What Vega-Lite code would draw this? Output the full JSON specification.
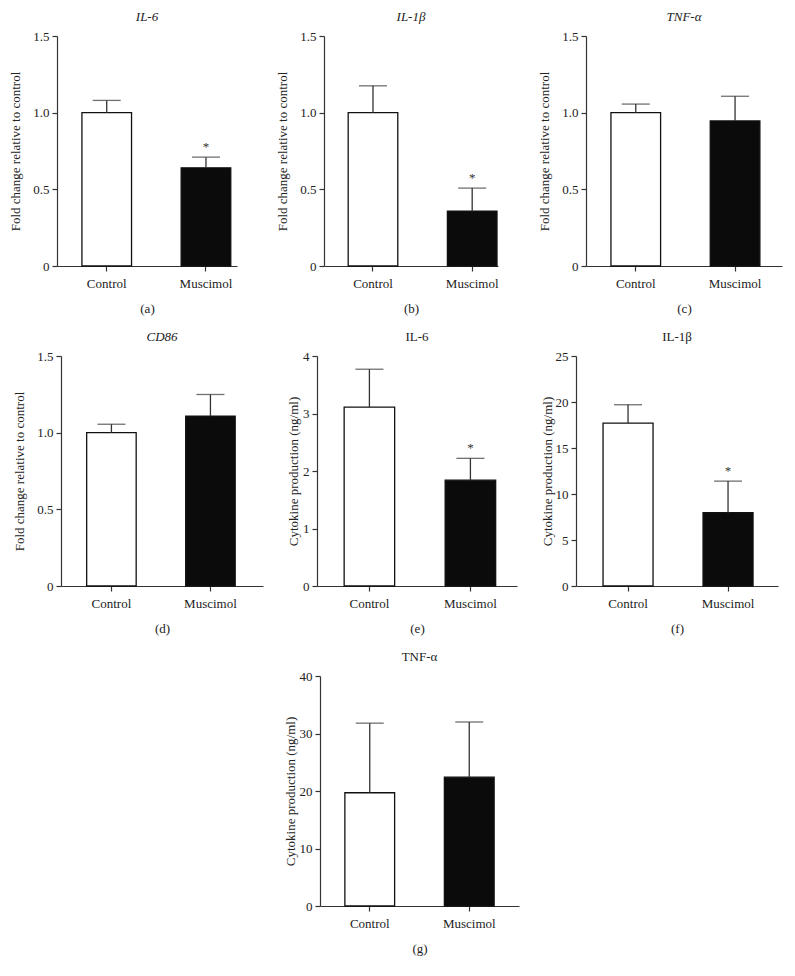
{
  "$schema": "https://vega.github.io/schema/vega-lite/v6.json",
  "background": "white",
  "padding": {"left": 9, "right": 5, "top": 11, "bottom": 5},
  "datasets": {
    "d": [
      {"panel": "a", "group": "Control", "value": 1.0, "err": 1.08, "sig": ""},
      {"panel": "a", "group": "Muscimol", "value": 0.64, "err": 0.71, "sig": "*"},
      {"panel": "b", "group": "Control", "value": 1.0, "err": 1.175, "sig": ""},
      {"panel": "b", "group": "Muscimol", "value": 0.357, "err": 0.508, "sig": "*"},
      {"panel": "c", "group": "Control", "value": 1.0, "err": 1.056, "sig": ""},
      {"panel": "c", "group": "Muscimol", "value": 0.946, "err": 1.107, "sig": ""},
      {"panel": "d", "group": "Control", "value": 1.0, "err": 1.055, "sig": ""},
      {"panel": "d", "group": "Muscimol", "value": 1.107, "err": 1.249, "sig": ""},
      {"panel": "e", "group": "Control", "value": 3.11, "err": 3.77, "sig": ""},
      {"panel": "e", "group": "Muscimol", "value": 1.84, "err": 2.22, "sig": "*"},
      {"panel": "f", "group": "Control", "value": 17.7, "err": 19.7, "sig": ""},
      {"panel": "f", "group": "Muscimol", "value": 7.96, "err": 11.4, "sig": "*"},
      {"panel": "g", "group": "Control", "value": 19.7, "err": 31.8, "sig": ""},
      {"panel": "g", "group": "Muscimol", "value": 22.4, "err": 32.0, "sig": ""}
    ]
  },
  "config": {
    "font": "Liberation Serif",
    "view": {"stroke": null},
    "title": {"font": "Liberation Serif", "fontSize": 13, "fontWeight": "normal", "color": "#222", "offset": 6},
    "axis": {
      "labelFont": "Liberation Serif", "titleFont": "Liberation Serif",
      "labelFontSize": 13, "titleFontSize": 13, "titleFontWeight": "normal",
      "labelColor": "#222", "titleColor": "#222",
      "domainColor": "#333", "tickColor": "#333", "domainWidth": 1.2, "tickWidth": 1.2,
      "tickSize": 5, "grid": false
    },
    "axisX": {"labelAngle": 0, "labelPadding": 6, "titlePadding": 12},
    "axisY": {"labelPadding": 3, "titlePadding": 10}
  },
  "vconcat": [
    {
      "hconcat": [
        {
          "width": 180, "height": 230,
          "title": {"text": "IL-6", "fontStyle": "italic"},
          "data": {"name": "d"},
          "transform": [{"filter": "datum.panel == 'a'"}],
          "encoding": {"x": {"field": "group", "type": "nominal", "sort": ["Control", "Muscimol"], "scale": {"paddingInner": 0.5, "paddingOuter": 0.157, "align": 0.8}, "axis": {"title": "(a)"}}},
          "layer": [
            {"mark": {"type": "bar", "stroke": "#111", "strokeWidth": 1.3}, "encoding": {"y": {"field": "value", "type": "quantitative", "scale": {"domain": [0, 1.5]}, "axis": {"title": "Fold change relative to control", "values": [0, 0.5, 1, 1.5], "labelExpr": "datum.value == 0 ? '0' : format(datum.value, '.1f')"}}, "fill": {"field": "group", "type": "nominal", "scale": {"domain": ["Control", "Muscimol"], "range": ["white", "#0b0b0b"]}, "legend": null}}},
            {"mark": {"type": "rule", "color": "#333", "strokeWidth": 1.3}, "encoding": {"y": {"field": "value", "type": "quantitative", "scale": {"domain": [0, 1.5]}, "axis": {"title": "Fold change relative to control", "values": [0, 0.5, 1, 1.5], "labelExpr": "datum.value == 0 ? '0' : format(datum.value, '.1f')"}}, "y2": {"field": "err"}}},
            {"mark": {"type": "tick", "color": "#333", "size": 28, "thickness": 1.3}, "encoding": {"y": {"field": "err", "type": "quantitative", "scale": {"domain": [0, 1.5]}, "axis": {"title": "Fold change relative to control", "values": [0, 0.5, 1, 1.5], "labelExpr": "datum.value == 0 ? '0' : format(datum.value, '.1f')"}}}},
            {"mark": {"type": "text", "dy": -3, "fontSize": 13, "color": "#333", "baseline": "bottom"}, "encoding": {"y": {"field": "err", "type": "quantitative", "scale": {"domain": [0, 1.5]}, "axis": {"title": "Fold change relative to control", "values": [0, 0.5, 1, 1.5], "labelExpr": "datum.value == 0 ? '0' : format(datum.value, '.1f')"}}, "text": {"field": "sig"}}}
          ]
        },
        {
          "width": 174, "height": 230,
          "title": {"text": "IL-1β", "fontStyle": "italic"},
          "data": {"name": "d"},
          "transform": [{"filter": "datum.panel == 'b'"}],
          "encoding": {"x": {"field": "group", "type": "nominal", "sort": ["Control", "Muscimol"], "scale": {"paddingInner": 0.5, "paddingOuter": 0.127, "align": 0.96}, "axis": {"title": "(b)"}}},
          "layer": [
            {"mark": {"type": "bar", "stroke": "#111", "strokeWidth": 1.3}, "encoding": {"y": {"field": "value", "type": "quantitative", "scale": {"domain": [0, 1.5]}, "axis": {"title": "Fold change relative to control", "values": [0, 0.5, 1, 1.5], "labelExpr": "datum.value == 0 ? '0' : format(datum.value, '.1f')"}}, "fill": {"field": "group", "type": "nominal", "scale": {"domain": ["Control", "Muscimol"], "range": ["white", "#0b0b0b"]}, "legend": null}}},
            {"mark": {"type": "rule", "color": "#333", "strokeWidth": 1.3}, "encoding": {"y": {"field": "value", "type": "quantitative", "scale": {"domain": [0, 1.5]}, "axis": {"title": "Fold change relative to control", "values": [0, 0.5, 1, 1.5], "labelExpr": "datum.value == 0 ? '0' : format(datum.value, '.1f')"}}, "y2": {"field": "err"}}},
            {"mark": {"type": "tick", "color": "#333", "size": 28, "thickness": 1.3}, "encoding": {"y": {"field": "err", "type": "quantitative", "scale": {"domain": [0, 1.5]}, "axis": {"title": "Fold change relative to control", "values": [0, 0.5, 1, 1.5], "labelExpr": "datum.value == 0 ? '0' : format(datum.value, '.1f')"}}}},
            {"mark": {"type": "text", "dy": -3, "fontSize": 13, "color": "#333", "baseline": "bottom"}, "encoding": {"y": {"field": "err", "type": "quantitative", "scale": {"domain": [0, 1.5]}, "axis": {"title": "Fold change relative to control", "values": [0, 0.5, 1, 1.5], "labelExpr": "datum.value == 0 ? '0' : format(datum.value, '.1f')"}}, "text": {"field": "sig"}}}
          ]
        },
        {
          "width": 196, "height": 230,
          "title": {"text": "TNF-α", "fontStyle": "italic"},
          "data": {"name": "d"},
          "transform": [{"filter": "datum.panel == 'c'"}],
          "encoding": {"x": {"field": "group", "type": "nominal", "sort": ["Control", "Muscimol"], "scale": {"paddingInner": 0.5, "paddingOuter": 0.237, "align": 0.53}, "axis": {"title": "(c)"}}},
          "layer": [
            {"mark": {"type": "bar", "stroke": "#111", "strokeWidth": 1.3}, "encoding": {"y": {"field": "value", "type": "quantitative", "scale": {"domain": [0, 1.5]}, "axis": {"title": "Fold change relative to control", "values": [0, 0.5, 1, 1.5], "labelExpr": "datum.value == 0 ? '0' : format(datum.value, '.1f')"}}, "fill": {"field": "group", "type": "nominal", "scale": {"domain": ["Control", "Muscimol"], "range": ["white", "#0b0b0b"]}, "legend": null}}},
            {"mark": {"type": "rule", "color": "#333", "strokeWidth": 1.3}, "encoding": {"y": {"field": "value", "type": "quantitative", "scale": {"domain": [0, 1.5]}, "axis": {"title": "Fold change relative to control", "values": [0, 0.5, 1, 1.5], "labelExpr": "datum.value == 0 ? '0' : format(datum.value, '.1f')"}}, "y2": {"field": "err"}}},
            {"mark": {"type": "tick", "color": "#333", "size": 28, "thickness": 1.3}, "encoding": {"y": {"field": "err", "type": "quantitative", "scale": {"domain": [0, 1.5]}, "axis": {"title": "Fold change relative to control", "values": [0, 0.5, 1, 1.5], "labelExpr": "datum.value == 0 ? '0' : format(datum.value, '.1f')"}}}},
            {"mark": {"type": "text", "dy": -3, "fontSize": 13, "color": "#333", "baseline": "bottom"}, "encoding": {"y": {"field": "err", "type": "quantitative", "scale": {"domain": [0, 1.5]}, "axis": {"title": "Fold change relative to control", "values": [0, 0.5, 1, 1.5], "labelExpr": "datum.value == 0 ? '0' : format(datum.value, '.1f')"}}, "text": {"field": "sig"}}}
          ]
        }
      ],
      "spacing": 39
    },
    {
      "hconcat": [
        {
          "width": 202, "height": 230,
          "title": {"text": "CD86", "fontStyle": "italic"},
          "data": {"name": "d"},
          "transform": [{"filter": "datum.panel == 'd'"}],
          "encoding": {"x": {"field": "group", "type": "nominal", "sort": ["Control", "Muscimol"], "scale": {"paddingInner": 0.5, "paddingOuter": 0.27, "align": 0.48}, "axis": {"title": "(d)"}}},
          "layer": [
            {"mark": {"type": "bar", "stroke": "#111", "strokeWidth": 1.3}, "encoding": {"y": {"field": "value", "type": "quantitative", "scale": {"domain": [0, 1.5]}, "axis": {"title": "Fold change relative to control", "values": [0, 0.5, 1, 1.5], "labelExpr": "datum.value == 0 ? '0' : format(datum.value, '.1f')"}}, "fill": {"field": "group", "type": "nominal", "scale": {"domain": ["Control", "Muscimol"], "range": ["white", "#0b0b0b"]}, "legend": null}}},
            {"mark": {"type": "rule", "color": "#333", "strokeWidth": 1.3}, "encoding": {"y": {"field": "value", "type": "quantitative", "scale": {"domain": [0, 1.5]}, "axis": {"title": "Fold change relative to control", "values": [0, 0.5, 1, 1.5], "labelExpr": "datum.value == 0 ? '0' : format(datum.value, '.1f')"}}, "y2": {"field": "err"}}},
            {"mark": {"type": "tick", "color": "#333", "size": 28, "thickness": 1.3}, "encoding": {"y": {"field": "err", "type": "quantitative", "scale": {"domain": [0, 1.5]}, "axis": {"title": "Fold change relative to control", "values": [0, 0.5, 1, 1.5], "labelExpr": "datum.value == 0 ? '0' : format(datum.value, '.1f')"}}}},
            {"mark": {"type": "text", "dy": -3, "fontSize": 13, "color": "#333", "baseline": "bottom"}, "encoding": {"y": {"field": "err", "type": "quantitative", "scale": {"domain": [0, 1.5]}, "axis": {"title": "Fold change relative to control", "values": [0, 0.5, 1, 1.5], "labelExpr": "datum.value == 0 ? '0' : format(datum.value, '.1f')"}}, "text": {"field": "sig"}}}
          ]
        },
        {
          "width": 200, "height": 230,
          "title": {"text": "IL-6"},
          "data": {"name": "d"},
          "transform": [{"filter": "datum.panel == 'e'"}],
          "encoding": {"x": {"field": "group", "type": "nominal", "sort": ["Control", "Muscimol"], "scale": {"paddingInner": 0.5, "paddingOuter": 0.24, "align": 0.56}, "axis": {"title": "(e)"}}},
          "layer": [
            {"mark": {"type": "bar", "stroke": "#111", "strokeWidth": 1.3}, "encoding": {"y": {"field": "value", "type": "quantitative", "scale": {"domain": [0, 4]}, "axis": {"title": "Cytokine production (ng/ml)", "values": [0, 1, 2, 3, 4], "titlePadding": 2}}, "fill": {"field": "group", "type": "nominal", "scale": {"domain": ["Control", "Muscimol"], "range": ["white", "#0b0b0b"]}, "legend": null}}},
            {"mark": {"type": "rule", "color": "#333", "strokeWidth": 1.3}, "encoding": {"y": {"field": "value", "type": "quantitative", "scale": {"domain": [0, 4]}, "axis": {"title": "Cytokine production (ng/ml)", "values": [0, 1, 2, 3, 4], "titlePadding": 2}}, "y2": {"field": "err"}}},
            {"mark": {"type": "tick", "color": "#333", "size": 28, "thickness": 1.3}, "encoding": {"y": {"field": "err", "type": "quantitative", "scale": {"domain": [0, 4]}, "axis": {"title": "Cytokine production (ng/ml)", "values": [0, 1, 2, 3, 4], "titlePadding": 2}}}},
            {"mark": {"type": "text", "dy": -3, "fontSize": 13, "color": "#333", "baseline": "bottom"}, "encoding": {"y": {"field": "err", "type": "quantitative", "scale": {"domain": [0, 4]}, "axis": {"title": "Cytokine production (ng/ml)", "values": [0, 1, 2, 3, 4], "titlePadding": 2}}, "text": {"field": "sig"}}}
          ]
        },
        {
          "width": 202, "height": 230,
          "title": {"text": "IL-1β"},
          "data": {"name": "d"},
          "transform": [{"filter": "datum.panel == 'f'"}],
          "encoding": {"x": {"field": "group", "type": "nominal", "sort": ["Control", "Muscimol"], "scale": {"paddingInner": 0.5, "paddingOuter": 0.26, "align": 0.52}, "axis": {"title": "(f)"}}},
          "layer": [
            {"mark": {"type": "bar", "stroke": "#111", "strokeWidth": 1.3}, "encoding": {"y": {"field": "value", "type": "quantitative", "scale": {"domain": [0, 25]}, "axis": {"title": "Cytokine production (ng/ml)", "values": [0, 5, 10, 15, 20, 25], "titlePadding": 1}}, "fill": {"field": "group", "type": "nominal", "scale": {"domain": ["Control", "Muscimol"], "range": ["white", "#0b0b0b"]}, "legend": null}}},
            {"mark": {"type": "rule", "color": "#333", "strokeWidth": 1.3}, "encoding": {"y": {"field": "value", "type": "quantitative", "scale": {"domain": [0, 25]}, "axis": {"title": "Cytokine production (ng/ml)", "values": [0, 5, 10, 15, 20, 25], "titlePadding": 1}}, "y2": {"field": "err"}}},
            {"mark": {"type": "tick", "color": "#333", "size": 28, "thickness": 1.3}, "encoding": {"y": {"field": "err", "type": "quantitative", "scale": {"domain": [0, 25]}, "axis": {"title": "Cytokine production (ng/ml)", "values": [0, 5, 10, 15, 20, 25], "titlePadding": 1}}}},
            {"mark": {"type": "text", "dy": -3, "fontSize": 13, "color": "#333", "baseline": "bottom"}, "encoding": {"y": {"field": "err", "type": "quantitative", "scale": {"domain": [0, 25]}, "axis": {"title": "Cytokine production (ng/ml)", "values": [0, 5, 10, 15, 20, 25], "titlePadding": 1}}, "text": {"field": "sig"}}}
          ]
        }
      ],
      "spacing": 24
    },
    {
      "width": 199, "height": 230,
      "title": {"text": "TNF-α"},
      "data": {"name": "d"},
      "transform": [{"filter": "datum.panel == 'g'"}],
      "encoding": {"x": {"field": "group", "type": "nominal", "sort": ["Control", "Muscimol"], "scale": {"paddingInner": 0.5, "paddingOuter": 0.25, "align": 0.5}, "axis": {"title": "(g)"}}},
      "layer": [
        {"mark": {"type": "bar", "stroke": "#111", "strokeWidth": 1.3}, "encoding": {"y": {"field": "value", "type": "quantitative", "scale": {"domain": [0, 40]}, "axis": {"title": "Cytokine production (ng/ml)", "values": [0, 10, 20, 30, 40], "titlePadding": 2}}, "fill": {"field": "group", "type": "nominal", "scale": {"domain": ["Control", "Muscimol"], "range": ["white", "#0b0b0b"]}, "legend": null}}},
        {"mark": {"type": "rule", "color": "#333", "strokeWidth": 1.3}, "encoding": {"y": {"field": "value", "type": "quantitative", "scale": {"domain": [0, 40]}, "axis": {"title": "Cytokine production (ng/ml)", "values": [0, 10, 20, 30, 40], "titlePadding": 2}}, "y2": {"field": "err"}}},
        {"mark": {"type": "tick", "color": "#333", "size": 28, "thickness": 1.3}, "encoding": {"y": {"field": "err", "type": "quantitative", "scale": {"domain": [0, 40]}, "axis": {"title": "Cytokine production (ng/ml)", "values": [0, 10, 20, 30, 40], "titlePadding": 2}}}},
        {"mark": {"type": "text", "dy": -3, "fontSize": 13, "color": "#333", "baseline": "bottom"}, "encoding": {"y": {"field": "err", "type": "quantitative", "scale": {"domain": [0, 40]}, "axis": {"title": "Cytokine production (ng/ml)", "values": [0, 10, 20, 30, 40], "titlePadding": 2}}, "text": {"field": "sig"}}}
      ]
    }
  ],
  "spacing": 16,
  "center": true
}
